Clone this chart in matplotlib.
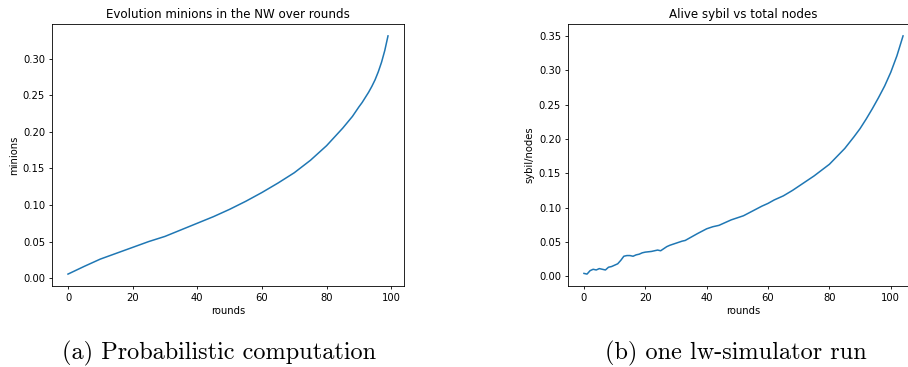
import matplotlib
matplotlib.use('Agg')
import numpy as np
from matplotlib import pyplot as plt

# probabilistic computation: share of minions per round
rounds_a = [0, 5, 10, 15, 20, 25, 30, 35, 40, 45, 50, 55, 60, 65, 70, 75, 80, 85, 88, 90,
            91, 92, 93, 94, 95, 96, 97, 98, 99]
minions = [0.0055, 0.016, 0.026, 0.034, 0.042, 0.050, 0.057, 0.066, 0.075, 0.084, 0.094,
           0.105, 0.117, 0.130, 0.144, 0.161, 0.181, 0.205, 0.221, 0.234,
           0.240, 0.247, 0.254, 0.262, 0.271, 0.282, 0.295, 0.311, 0.331]

# one lw-simulator run: alive sybil / total nodes
rounds_b = [0, 1, 2, 3, 4, 5, 6, 7, 8, 9, 10, 11, 12, 13, 14, 15, 16, 17, 18, 19, 20, 22, 24,
            25, 26, 27, 28, 30, 32, 33, 35, 37, 40, 42, 44, 46, 48, 50, 52, 55, 58, 60, 62,
            65, 68, 70, 75, 80, 85, 88, 90, 92, 94, 96, 98, 100, 102, 104]
sybil = [0.004, 0.003, 0.008, 0.010, 0.009, 0.011, 0.010, 0.009, 0.013, 0.014, 0.016, 0.018,
         0.023, 0.029, 0.030, 0.030, 0.029, 0.031, 0.032, 0.034, 0.035, 0.036, 0.038,
         0.037, 0.040, 0.043, 0.045, 0.048, 0.051, 0.052, 0.057, 0.062, 0.069, 0.072, 0.074,
         0.078, 0.082, 0.085, 0.088, 0.095, 0.102, 0.106, 0.111, 0.117, 0.125, 0.131, 0.146,
         0.163, 0.186, 0.203, 0.215, 0.229, 0.244, 0.260, 0.277, 0.297, 0.321, 0.350]

W, H = 908, 367
fig = plt.figure(figsize=(W / 100, H / 100), dpi=100)

def px_axes(left, right, top, bottom):
    return fig.add_axes([left / W, 1 - bottom / H, (right - left) / W, (bottom - top) / H])

ax1 = px_axes(52, 404, 24, 286)
ax2 = px_axes(568, 919, 24, 286)

panels = [
    (ax1, rounds_a, minions, 'Evolution minions in the NW over rounds', 'minions'),
    (ax2, rounds_b, sybil, 'Alive sybil vs total nodes', 'sybil/nodes'),
]
for ax, x, y, title, ylabel in panels:
    ax.plot(x, y, color='#1f77b4', lw=1.1)
    ax.set_title(title, fontsize=8.6, pad=4)
    ax.set_xlabel('rounds', fontsize=7.2, labelpad=2.5)
    ax.set_ylabel(ylabel, fontsize=7.2, labelpad=3)
    ax.tick_params(labelsize=7.2, length=2.5, width=0.6, pad=2.5)
    for s in ax.spines.values():
        s.set_linewidth(0.6)

ax1.set_xticks([0, 20, 40, 60, 80, 100])
ax2.set_xticks([0, 20, 40, 60, 80, 100])

fig.text(219 / W, 1 - 353 / H, '(a) Probabilistic computation', family='cmr10',
         fontsize=17.5, ha='center', va='center')
fig.text(736 / W, 1 - 353 / H, '(b) one lw-simulator run', family='cmr10',
         fontsize=17.5, ha='center', va='center')

fig.savefig('out.png', dpi=100)
